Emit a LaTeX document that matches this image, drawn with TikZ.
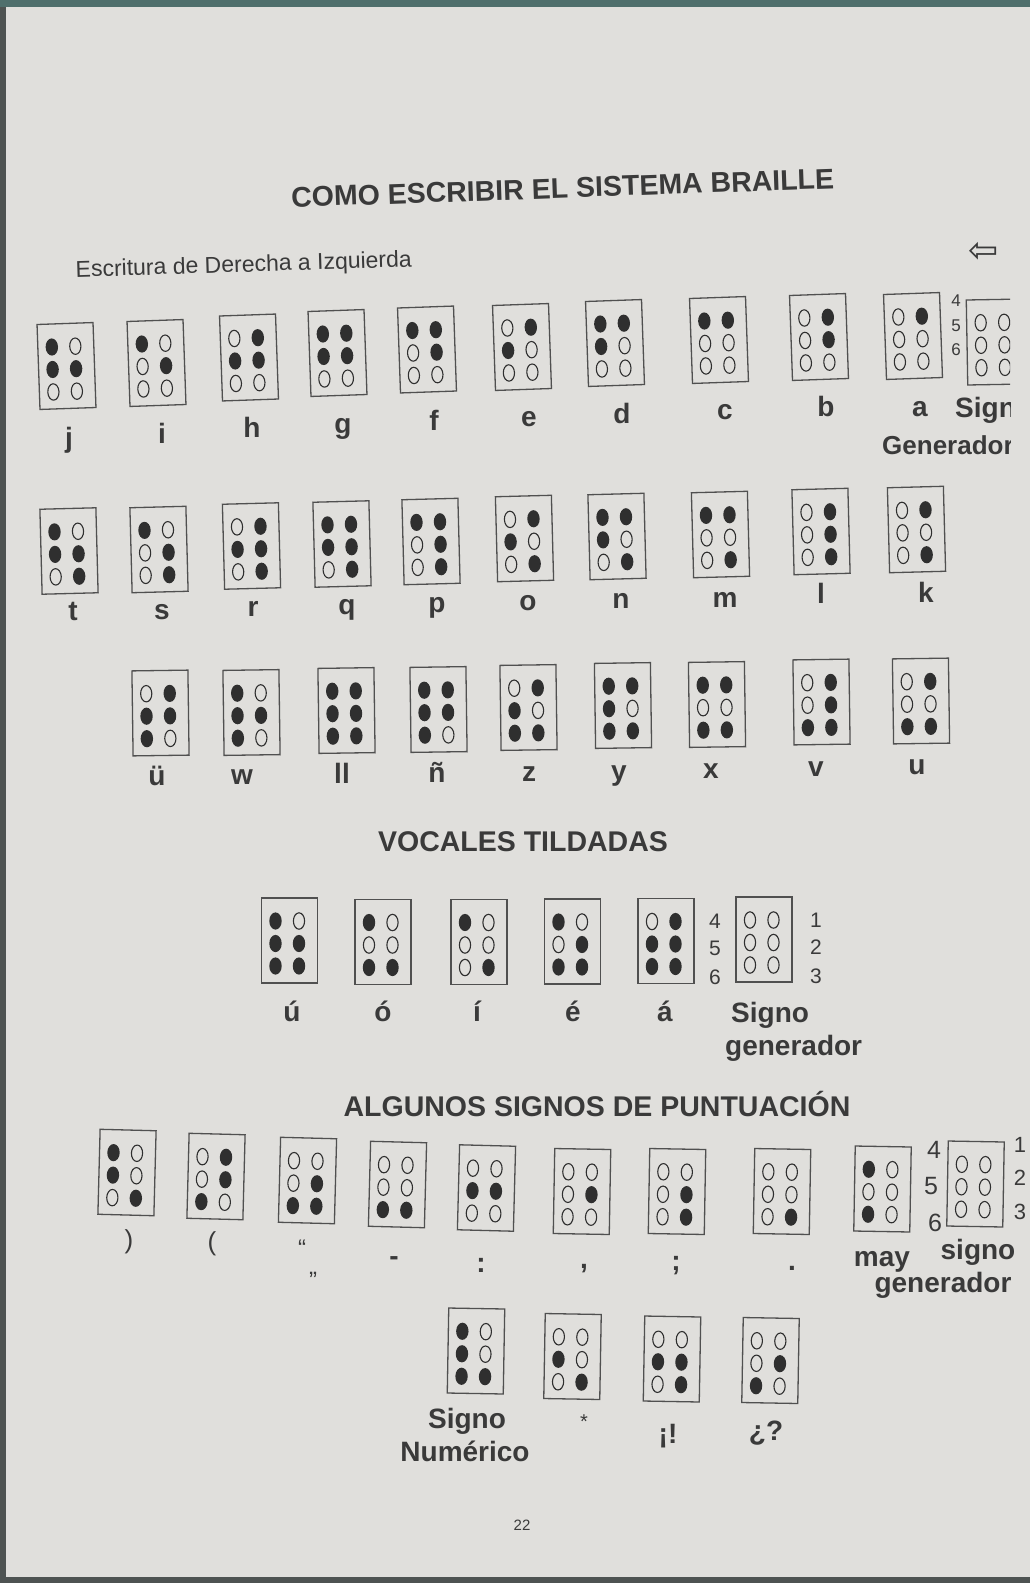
\documentclass[tikz,border=0pt]{standalone}
\usepackage{fontspec}
\setmainfont{Liberation Sans}
\newfontfamily\dejavu{DejaVu Sans}
\definecolor{page}{HTML}{E0DFDC}
\definecolor{ink}{HTML}{3A3A3A}
\definecolor{boxc}{HTML}{505050}
\definecolor{dotc}{HTML}{2F2F2F}
\definecolor{edgea}{HTML}{4E5352}
\definecolor{edgeb}{HTML}{4F6F6C}
\tikzset{
  cellbox/.style={draw=boxc,line width=1.3pt,minimum width=56pt,minimum height=85pt,inner sep=0pt},
  fulldot/.style={fill=dotc},
  hollowdot/.style={draw=dotc,line width=1.1pt},
  lbl/.style={text=ink,font=\fontsize{28}{30}\selectfont\bfseries,inner sep=0pt,anchor=base},
  numl/.style={text=ink,font=\fontsize{21}{24}\selectfont,inner sep=0pt,anchor=base},
  head/.style={text=ink,font=\fontsize{28.5}{32}\selectfont\bfseries,inner sep=0pt,anchor=base},
}
\newcommand{\bcell}[5]{%
  \node[cellbox,rotate=#4] (#1) at (#2,#3) {};
  \begin{scope}[shift={(#2,#3)},rotate=#4]
    \foreach \v [count=\k from 0] in {#5}{%
      \pgfmathtruncatemacro{\dcol}{mod(\k,2)}%
      \pgfmathtruncatemacro{\drow}{div(\k,2)}%
      \pgfmathsetmacro{\bdx}{-14+23.5*\dcol}%
      \pgfmathsetmacro{\bdy}{-19.5+22.5*\drow}%
      \ifnum\v=1
        \fill[fulldot] (\bdx,\bdy) ellipse [x radius=6.2pt,y radius=8.6pt];
      \else
        \draw[hollowdot] (\bdx,\bdy) ellipse [x radius=5.6pt,y radius=8.2pt];
      \fi
    }
  \end{scope}}
\begin{document}
\begin{tikzpicture}[x=1pt,y=-1pt]
\useasboundingbox (0,0) rectangle (1030,1583);
\fill[page] (0,0) rectangle (1030,1583);
\fill[edgea] (0,0) rectangle (6,1583);
\fill[edgeb] (0,0) rectangle (1030,7);
\fill[edgea] (0,1577) rectangle (1030,1583);

% headings
\node[head,rotate=2] (title) at (563,198) {COMO ESCRIBIR EL SISTEMA BRAILLE};
\node[text=ink,font=\fontsize{23}{26}\selectfont,inner sep=0pt,anchor=base,rotate=1.8] (sub) at (244,272) {Escritura de Derecha a Izquierda};
\node[text=ink,font=\dejavu\fontsize{36}{36}\selectfont,inner sep=0pt] (arrow) at (984,252) {⇦};

% row 1
\bcell{cj}{66.5}{366}{2}{1,0,1,1,0,0}
\bcell{ci}{156.5}{363}{2}{1,0,0,1,0,0}
\bcell{ch}{249}{357.5}{2}{0,1,1,1,0,0}
\bcell{cg}{337.5}{353}{2}{1,1,1,1,0,0}
\bcell{cf}{427}{349.5}{2}{1,1,0,1,0,0}
\bcell{ce}{522}{347}{2}{0,1,1,0,0,0}
\bcell{cd}{615}{343}{2}{1,1,1,0,0,0}
\bcell{cc}{719}{340}{2}{1,1,0,0,0,0}
\bcell{cb}{819}{337}{2}{0,1,0,1,0,0}
\bcell{ca}{913}{336}{2}{0,1,0,0,0,0}
\begin{scope}
\clip (0,0) rectangle (1010,1583);
\bcell{csa}{995}{342}{1}{0,0,0,0,0,0}
\node[lbl,anchor=base west] (lsign) at (955,417) {Sign};
\node[lbl,anchor=base west,font=\fontsize{26}{30}\selectfont\bfseries] (lgen) at (882,454) {Generador};
\end{scope}
\node[numl,font=\fontsize{17}{20}\selectfont] (n4a) at (956,306) {4};
\node[numl,font=\fontsize{17}{20}\selectfont] (n5a) at (956,331) {5};
\node[numl,font=\fontsize{17}{20}\selectfont] (n6a) at (956,355) {6};
\node[lbl] (lj) at (69,447) {j};
\node[lbl] (li) at (162,443) {i};
\node[lbl] (lh) at (252,437) {h};
\node[lbl] (lg) at (343,433) {g};
\node[lbl] (lf) at (434,430) {f};
\node[lbl] (le) at (529,426) {e};
\node[lbl] (ld) at (622,423) {d};
\node[lbl] (lc) at (725,419) {c};
\node[lbl] (lb) at (826,416) {b};
\node[lbl] (la) at (920,416) {a};

% row 2
\bcell{ct}{69}{551}{1.5}{1,0,1,1,0,1}
\bcell{cs}{159}{549.5}{1.5}{1,0,0,1,0,1}
\bcell{cr}{251.5}{546}{1.5}{0,1,1,1,0,1}
\bcell{cq}{342}{544}{1.5}{1,1,1,1,0,1}
\bcell{cp}{431}{541.5}{1.5}{1,1,0,1,0,1}
\bcell{co}{524.5}{538.5}{1.5}{0,1,1,0,0,1}
\bcell{cn}{617}{536.5}{1.5}{1,1,1,0,0,1}
\bcell{cm}{720.5}{534.5}{1.5}{1,1,0,0,0,1}
\bcell{cl}{821}{531.5}{1.5}{0,1,0,1,0,1}
\bcell{ck}{916.5}{529.5}{1.5}{0,1,0,0,0,1}
\node[lbl] (lt) at (73,620) {t};
\node[lbl] (ls) at (162,619) {s};
\node[lbl] (lr) at (253,616) {r};
\node[lbl] (lq) at (347,614) {q};
\node[lbl] (lp) at (437,612) {p};
\node[lbl] (lo) at (528,610) {o};
\node[lbl] (ln) at (621,608) {n};
\node[lbl] (lm) at (725,607) {m};
\node[lbl] (ll) at (821,603) {l};
\node[lbl] (lk) at (926,602) {k};

% row 3
\bcell{cuu}{160.5}{713}{0.8}{0,1,1,1,1,0}
\bcell{cw}{251.5}{712.5}{0.8}{1,0,1,1,1,0}
\bcell{cll}{346.5}{710.5}{0.8}{1,1,1,1,1,1}
\bcell{cnn}{438.5}{709.5}{0.8}{1,1,1,1,1,0}
\bcell{cz}{528.5}{707.5}{0.8}{0,1,1,0,1,1}
\bcell{cy}{623}{705.5}{0.8}{1,1,1,0,1,1}
\bcell{cx}{717}{704.5}{0.8}{1,1,0,0,1,1}
\bcell{cv}{821.5}{702}{0.8}{0,1,0,1,1,1}
\bcell{cu}{921}{701}{0.8}{0,1,0,0,1,1}
\node[lbl] (luu) at (157,785) {ü};
\node[lbl] (lw) at (242,784) {w};
\node[lbl] (lll) at (342,783) {ll};
\node[lbl] (lnn) at (437,782) {ñ};
\node[lbl] (lz) at (529,781) {z};
\node[lbl] (ly) at (619,780) {y};
\node[lbl] (lx) at (711,778) {x};
\node[lbl] (lv) at (816,776) {v};
\node[lbl] (lu) at (917,774) {u};

% vocales
\node[head] (hvoc) at (523,851) {VOCALES TILDADAS};
\bcell{cau}{289.5}{940.5}{0}{1,0,1,1,1,1}
\bcell{cao}{383}{942}{0}{1,0,0,0,1,1}
\bcell{cai}{479}{942}{0}{1,0,0,0,0,1}
\bcell{cae}{572.5}{941.5}{0}{1,0,0,1,1,1}
\bcell{caa}{666}{941}{0}{0,1,1,1,1,1}
\bcell{cav}{764}{939.5}{0}{0,0,0,0,0,0}
\node[numl] (n4b) at (715,928) {4};
\node[numl] (n5b) at (715,955) {5};
\node[numl] (n6b) at (715,984) {6};
\node[numl] (n1b) at (816,927) {1};
\node[numl] (n2b) at (816,954) {2};
\node[numl] (n3b) at (816,983) {3};
\node[lbl] (lau) at (292,1021) {ú};
\node[lbl] (lao) at (383,1021) {ó};
\node[lbl] (lai) at (477,1021) {í};
\node[lbl] (lae) at (573,1021) {é};
\node[lbl] (laa) at (665,1021) {á};
\node[lbl,anchor=base west] (lsv1) at (731,1022) {Signo};
\node[lbl,anchor=base west] (lsv2) at (725,1055) {generador};

% puntuacion
\node[head] (hpun) at (597,1116) {ALGUNOS SIGNOS DE PUNTUACIÓN};
\bcell{cpr}{127}{1172.5}{-1.5}{1,0,1,0,0,1}
\bcell{cpl}{216}{1176.5}{-1.5}{0,1,0,1,1,0}
\bcell{cpq}{307.5}{1180.5}{-1.5}{0,0,0,1,1,1}
\bcell{cph}{397.5}{1184.5}{-1.5}{0,0,0,0,1,1}
\bcell{cpc}{486.5}{1188}{-1.5}{0,0,1,1,0,0}
\bcell{cpm}{582}{1191.5}{-1}{0,0,0,1,0,0}
\bcell{cps}{677}{1191.5}{-1}{0,0,0,1,0,1}
\bcell{cpp}{782}{1191.5}{-1}{0,0,0,0,0,1}
\bcell{cpy}{882.5}{1189}{-1}{1,0,0,0,1,0}
\bcell{cpg}{975.5}{1184}{-1}{0,0,0,0,0,0}
\node[numl,font=\fontsize{25}{28}\selectfont] (n4c) at (934,1158) {4};
\node[numl,font=\fontsize{25}{28}\selectfont] (n5c) at (931,1194) {5};
\node[numl,font=\fontsize{25}{28}\selectfont] (n6c) at (935,1231) {6};
\node[numl,font=\fontsize{22}{24}\selectfont] (n1c) at (1020,1152) {1};
\node[numl,font=\fontsize{22}{24}\selectfont] (n2c) at (1020,1185) {2};
\node[numl,font=\fontsize{22}{24}\selectfont] (n3c) at (1020,1219) {3};
\node[lbl,font=\fontsize{26}{30}\selectfont] (lpr) at (129,1248) {)};
\node[lbl,font=\fontsize{26}{30}\selectfont] (lpl) at (212,1250) {(};
\node[lbl,font=\fontsize{24}{26}\selectfont] (lpq1) at (302,1256) {“};
\node[lbl,font=\fontsize{24}{26}\selectfont] (lpq2) at (313,1274) {„};
\node[lbl] (lph) at (394,1265) {-};
\node[lbl] (lpc) at (481,1272) {:};
\node[lbl] (lpm) at (584,1268) {,};
\node[lbl] (lps) at (676,1270) {;};
\node[lbl] (lpp) at (792,1270) {.};
\node[lbl] (lpy) at (882,1266) {may};
\node[lbl] (lpg1) at (978,1259) {signo};
\node[lbl] (lpg2) at (943,1292) {generador};

% fila final
\bcell{cbn}{476}{1351}{-1}{1,0,1,0,1,1}
\bcell{cba}{572.5}{1356.5}{-1}{0,0,1,0,0,1}
\bcell{cbe}{672}{1359}{-1}{0,0,1,1,0,1}
\bcell{cbq}{770.5}{1360.5}{-1}{0,0,0,1,1,0}
\node[lbl] (lbn1) at (467,1428) {Signo};
\node[lbl] (lbn2) at (465,1461) {Numérico};
\node[lbl,font=\fontsize{20}{24}\selectfont] (lba) at (584,1428) {*};
\node[lbl] (lbe) at (668,1443) {¡!};
\node[lbl] (lbq) at (766,1440) {¿?};

\node[text=ink,font=\fontsize{15}{18}\selectfont,inner sep=0pt,anchor=base] (pg) at (522,1530) {22};
\end{tikzpicture}
\end{document}
